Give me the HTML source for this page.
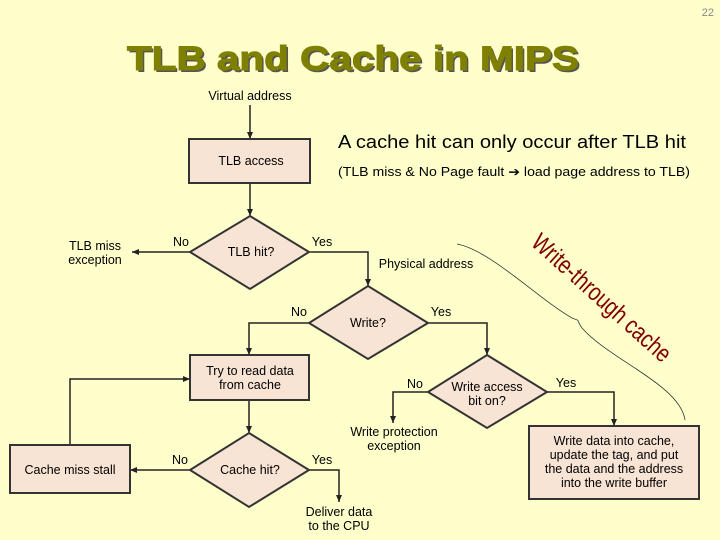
<!DOCTYPE html>
<html><head><meta charset="utf-8"><style>
html,body{margin:0;padding:0;background:#ffffcc;}
svg{display:block;font-family:"Liberation Sans",Arial,sans-serif;}
</style></head><body>
<svg width="720" height="540" viewBox="0 0 720 540" xmlns="http://www.w3.org/2000/svg">
<defs>
<marker id="a" markerWidth="8" markerHeight="8" refX="7" refY="4" orient="auto" markerUnits="userSpaceOnUse">
<path d="M0,1 L7,4 L0,7 Z" fill="#222"/></marker>
</defs>
<rect width="720" height="540" fill="#ffffcc"/>
<text x="714" y="16" font-size="11" fill="#888" text-anchor="end">22</text>
<text x="129" y="72" font-size="34" font-weight="bold" fill="#555" textLength="452" lengthAdjust="spacingAndGlyphs">TLB and Cache in MIPS</text>
<text x="127" y="70" font-size="34" font-weight="bold" fill="#7f7f00" textLength="452" lengthAdjust="spacingAndGlyphs" stroke="#7f7f00" stroke-width="1">TLB and Cache in MIPS</text>
<text x="338" y="148" font-size="18" fill="#000" textLength="348" lengthAdjust="spacingAndGlyphs">A cache hit can only occur after TLB hit</text>
<text x="338" y="176" font-size="12.5" fill="#000" textLength="352" lengthAdjust="spacingAndGlyphs">(TLB miss &amp; No Page fault ➔ load page address to TLB)</text>

<g stroke="#222" stroke-width="1.5" fill="none">
<line x1="250" y1="105" x2="250" y2="139" marker-end="url(#a)"/>
<line x1="250" y1="183" x2="250" y2="216" marker-end="url(#a)"/>
<line x1="190" y1="252" x2="132" y2="252" marker-end="url(#a)"/>
<polyline points="310,252 368,252 368,286" marker-end="url(#a)"/>
<polyline points="309,323 249,323 249,355" marker-end="url(#a)"/>
<polyline points="428,323 487,323 487,355" marker-end="url(#a)"/>
<polyline points="428,392 393,392 393,423" marker-end="url(#a)"/>
<polyline points="547,392 614,392 614,426" marker-end="url(#a)"/>
<line x1="249" y1="400" x2="249" y2="433" marker-end="url(#a)"/>
<line x1="190" y1="470" x2="130" y2="470" marker-end="url(#a)"/>
<polyline points="70,445 70,379 190,379" marker-end="url(#a)"/>
<polyline points="309,470 339,470 339,502" marker-end="url(#a)"/>
</g>

<g fill="#f8e4d4" stroke="#333" stroke-width="2">
<rect x="189" y="139" width="121" height="44"/>
<polygon points="250,216 309,252 250,289 190,252"/>
<polygon points="368,286 428,323 368,359 309,323"/>
<rect x="190" y="355" width="119" height="45"/>
<polygon points="487,355 547,392 487,428 428,392"/>
<rect x="529" y="426" width="170" height="73"/>
<polygon points="249,433 309,470 249,507 190,470"/>
<rect x="10" y="445" width="120" height="48"/>
</g>

<path d="M457,244 C490,250 540,300 572,318 C582,322 575,318 582,328 C610,360 680,385 685,420" stroke="#333" stroke-width="0.8" fill="none"/>
<text transform="translate(596,304) rotate(42)" font-size="25" fill="#800000" text-anchor="middle" textLength="178" lengthAdjust="spacingAndGlyphs">Write-through cache</text>

<g font-size="12.5" fill="#000" text-anchor="middle">
<text x="250" y="100">Virtual address</text>
<text x="251" y="165">TLB access</text>
<text x="251" y="256">TLB hit?</text>
<text x="181" y="246">No</text>
<text x="322" y="246">Yes</text>
<text x="95" y="250">TLB miss</text>
<text x="95" y="264">exception</text>
<text x="426" y="268">Physical  address</text>
<text x="368" y="327">Write?</text>
<text x="299" y="316">No</text>
<text x="441" y="316">Yes</text>
<text x="250" y="375">Try to read data</text>
<text x="250" y="389">from cache</text>
<text x="487" y="391">Write access</text>
<text x="487" y="405">bit on?</text>
<text x="415" y="388">No</text>
<text x="566" y="387">Yes</text>
<text x="394" y="436">Write protection</text>
<text x="394" y="450">exception</text>
<text x="614" y="445">Write data into cache,</text>
<text x="614" y="459">update the tag, and put</text>
<text x="614" y="473">the data and the address</text>
<text x="614" y="487">into the write buffer</text>
<text x="250" y="474">Cache hit?</text>
<text x="180" y="464">No</text>
<text x="322" y="464">Yes</text>
<text x="70" y="474">Cache miss stall</text>
<text x="339" y="516">Deliver data</text>
<text x="339" y="530">to the CPU</text>
</g>
</svg>
</body></html>
